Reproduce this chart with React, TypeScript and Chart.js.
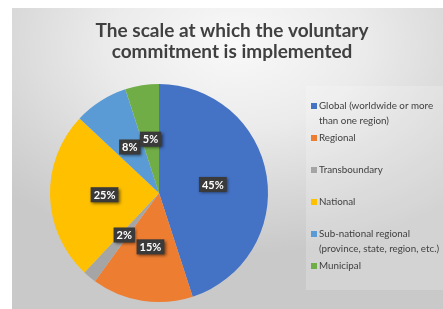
import React, { useEffect, useRef } from "react";
import { Chart, registerables } from "chart.js";

Chart.register(...registerables);

const titleLines = ["The scale at which the voluntary", "commitment is implemented"];
const categories = [
  ["Global (worldwide or more", "than one region)"],
  ["Regional"],
  ["Transboundary"],
  ["National"],
  ["Sub-national regional", "(province, state, region, etc.)"],
  ["Municipal"],
];
const values = [45, 15, 2, 25, 8, 5];
const colors = ["#4472C4", "#ED7D31", "#A5A5A5", "#FFC000", "#5B9BD5", "#70AD47"];

const FONT = "Lato, 'Open Sans', sans-serif";

const decorPlugin = {
  id: "decor",
  beforeDraw(chart: any) {
    const ctx = chart.ctx;
    ctx.save();
    ctx.fillStyle = "rgba(255,255,255,0.2)";
    ctx.fillRect(306, 86, 137, 204);
    ctx.restore();
  },
  afterDraw(chart: any) {
    const ctx = chart.ctx;
    ctx.save();
    // title
    ctx.fillStyle = "#404040";
    ctx.font = `bold 19px ${FONT}`;
    ctx.textAlign = "center";
    ctx.textBaseline = "middle";
    titleLines.forEach((t, i) => ctx.fillText(t, 232, 31 + i * 21));

    // data labels
    const meta = chart.getDatasetMeta(0);
    const data = chart.data.datasets[0].data as number[];
    ctx.font = `bold 11px ${FONT}`;
    meta.data.forEach((arc: any, i: number) => {
      const p = arc.getProps(["x", "y", "startAngle", "endAngle", "outerRadius"], true);
      const mid = (p.startAngle + p.endAngle) / 2;
      const cx = p.x + Math.cos(mid) * p.outerRadius * 0.5;
      const cy = p.y + Math.sin(mid) * p.outerRadius * 0.5;
      const txt = `${data[i]}%`;
      const w = ctx.measureText(txt).width + 6;
      const h = 15;
      ctx.save();
      ctx.shadowColor = "rgba(0,0,0,0.55)";
      ctx.shadowBlur = 3;
      ctx.shadowOffsetX = 1.5;
      ctx.shadowOffsetY = 1.5;
      ctx.fillStyle = "#3a3a3a";
      ctx.fillRect(cx - w / 2, cy - h / 2, w, h);
      ctx.restore();
      ctx.fillStyle = "#ffffff";
      ctx.textAlign = "center";
      ctx.textBaseline = "middle";
      ctx.fillText(txt, cx, cy + 0.5);
    });

    // legend
    const labels = chart.data.labels as string[][];
    ctx.font = `9.8px ${FONT}`;
    ctx.textAlign = "left";
    ctx.textBaseline = "middle";
    labels.forEach((lines, i) => {
      const y = 106 + i * 32;
      ctx.fillStyle = colors[i];
      ctx.fillRect(311, y - 3, 6, 6);
      ctx.fillStyle = "#404040";
      lines.forEach((ln, j) => ctx.fillText(ln, 319, y + j * 14.5));
    });
    ctx.restore();
  },
};

export default function App() {
  const ref = useRef<HTMLCanvasElement>(null);
  useEffect(() => {
    if (!ref.current) return;
    const chart = new Chart(ref.current, {
      type: "pie",
      data: {
        labels: categories,
        datasets: [
          {
            data: values,
            backgroundColor: colors,
            borderWidth: 0,
          },
        ],
      },
      options: {
        responsive: false,
        animation: false,
        devicePixelRatio: 1,
        layout: { padding: { left: 50, right: 175, top: 84, bottom: 7 } },
        plugins: {
          legend: { display: false },
          title: { display: false },
          tooltip: { enabled: false },
        },
      },
      plugins: [decorPlugin],
    });
    return () => chart.destroy();
  }, []);

  return (
    <div style={{ position: "absolute", left: 0, top: 0, width: 443, height: 309, background: "#ffffff", overflow: "hidden" }}>
      <div
        style={{
          position: "absolute",
          left: 12,
          top: 8,
          width: 431,
          height: 301,
          background: "radial-gradient(ellipse 75% 70% at 52% 12%, #f9f9f9 0%, #ebebeb 40%, #d6d6d6 75%, #c9c9c9 100%)",
        }}
      />
      <canvas ref={ref} width={443} height={309} style={{ position: "absolute", left: 0, top: 0 }} />
    </div>
  );
}
